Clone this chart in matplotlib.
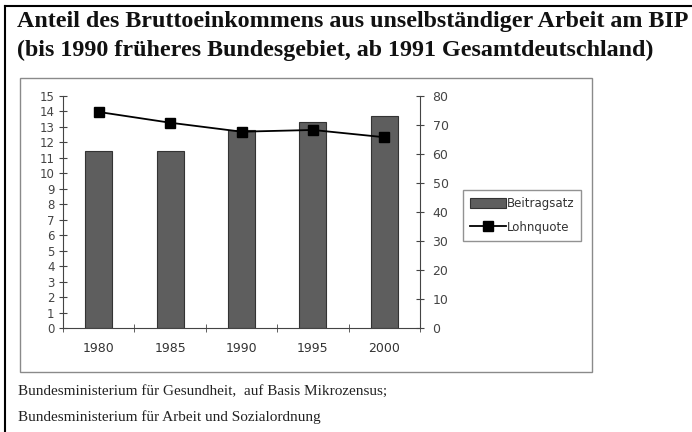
import matplotlib
matplotlib.use('Agg')
import matplotlib.pyplot as plt
from matplotlib.patches import Rectangle
from matplotlib.lines import Line2D

# data
years = ['1980', '1985', '1990', '1995', '2000']
beitragssatz = [11.4, 11.4, 12.8, 13.3, 13.7]
lohnquote = [74.4, 70.7, 67.6, 68.2, 65.7]

title_lines = ['Anteil des Bruttoeinkommens aus unselbständiger Arbeit am BIP',
               '(bis 1990 früheres Bundesgebiet, ab 1991 Gesamtdeutschland)']
source_lines = ['Bundesministerium für Gesundheit,  auf Basis Mikrozensus;',
                'Bundesministerium für Arbeit und Sozialordnung']

W, H = 692, 432
fig = plt.figure(figsize=(W / 100, H / 100), dpi=100)

# outer frame (left and top edge of the scanned page)
fig.add_artist(Line2D([5 / W, 5 / W], [0, 1 - 6 / H], color='black', lw=1.5))
fig.add_artist(Line2D([5 / W, 1], [1 - 6 / H, 1 - 6 / H], color='black', lw=1.5))

# chart box
fig.add_artist(Rectangle((20 / W, 1 - 372 / H), 572 / W, 294 / H, fill=False,
                         edgecolor='#8a8a8a', lw=1.0))

# titles
fig.text(17 / W, 1 - 22 / H, title_lines[0], family='Liberation Serif', weight='bold',
         fontsize=17.3, va='center', ha='left', color='#111111')
fig.text(17 / W, 1 - 50 / H, title_lines[1], family='Liberation Serif', weight='bold',
         fontsize=17.3, va='center', ha='left', color='#111111')

# source
fig.text(18 / W, 1 - 391 / H, source_lines[0], family='Liberation Serif',
         fontsize=11, va='center', ha='left', color='#222222')
fig.text(18 / W, 1 - 417 / H, source_lines[1], family='Liberation Serif',
         fontsize=11, va='center', ha='left', color='#222222')

ax = fig.add_axes([63 / W, 1 - 328 / H, 357 / W, 232.3 / H])
x = list(range(len(years)))
bars = ax.bar(x, beitragssatz, width=0.38, color='#5e5e5e', edgecolor='#333333',
              lw=0.8, label='Beitragsatz')
ax.set_xlim(-0.5, 4.5)
ax.set_ylim(0, 15)
ax.set_yticks(range(0, 16))
ax.set_xticks(x)
ax.set_xticklabels(years)
ax.set_xticks([i + 0.5 for i in range(-1, 5)], minor=True)
ax.tick_params(axis='x', which='major', length=0, pad=10, labelsize=9, labelcolor='#333333')
ax.tick_params(axis='x', which='minor', length=6, direction='inout', color='#444444')
ax.tick_params(axis='y', length=6, direction='inout', labelsize=8.5, labelcolor='#444444',
               color='#444444', pad=3)
ax.spines['top'].set_visible(False)
ax.spines['right'].set_visible(False)
ax.spines['left'].set_color('#444444')
ax.spines['bottom'].set_color('#444444')

ax2 = ax.twinx()
line, = ax2.plot(x, lohnquote, color='black', marker='s', markersize=6.5, lw=1.3,
                 label='Lohnquote')
ax2.set_ylim(0, 80)
ax2.set_yticks(range(0, 81, 10))
ax2.tick_params(axis='y', length=6, direction='inout', labelsize=9, labelcolor='#444444',
                color='#444444', pad=6)
ax2.spines['top'].set_visible(False)
ax2.spines['left'].set_visible(False)
ax2.spines['bottom'].set_visible(False)
ax2.spines['right'].set_color('#444444')

leg = fig.legend([bars, line], ['Beitragsatz', 'Lohnquote'],
                 loc='upper left', bbox_to_anchor=(463 / W, 1 - 190 / H),
                 fontsize=8.5, frameon=True, fancybox=False, edgecolor='#777777',
                 handlelength=3.0, handleheight=0.9, handletextpad=0.1, borderpad=0.6,
                 labelspacing=0.9, borderaxespad=0)
for t in leg.get_texts():
    t.set_color('#333333')

plt.savefig('out.png', dpi=100)
